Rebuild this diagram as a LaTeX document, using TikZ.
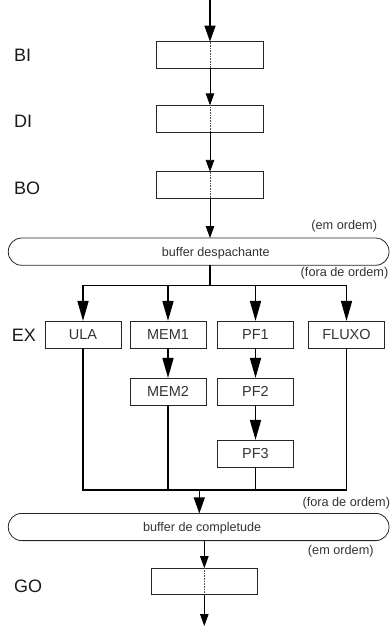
\documentclass[tikz,border=0pt]{standalone}
\usepackage{fontspec}
\setmainfont{Liberation Sans}
\usetikzlibrary{arrows.meta}
\begin{document}
\begin{tikzpicture}[x=1pt,y=-1pt,
  stage/.style={draw=black!85, line width=0.8pt, minimum width=106.5pt, minimum height=26.7pt, inner sep=0pt, outer sep=0pt},
  unit/.style={draw=black!85, line width=0.8pt, minimum width=76pt, minimum height=27.5pt, inner sep=0pt, outer sep=0pt, font=\fontsize{14.5}{16}\selectfont, text=black!80},
  buf/.style={draw=black!85, line width=0.8pt, rounded corners=13.3pt, minimum width=380.7pt, minimum height=27.2pt, inner sep=0pt, outer sep=0pt},
  buftext/.style={font=\fontsize{12.6}{14}\selectfont, text=black!80, inner sep=0pt},
  note/.style={font=\fontsize{12.7}{14}\selectfont, text=black!80, inner sep=0pt},
  stagelabel/.style={font=\fontsize{18}{20}\selectfont, anchor=west, inner sep=0pt, text=black!90},
  thickflow/.style={line width=1.4pt, -{Triangle[length=16pt,width=11pt]}},
  unitflow/.style={line width=1.4pt, -{Triangle[length=20pt,width=11pt]}},
  thinflow/.style={line width=0.8pt, -{Triangle[length=12pt,width=8.5pt]}},
  bus/.style={line width=1.4pt},
  through/.style={densely dotted, line width=0.6pt, black!70},
]
\useasboundingbox (0,0) rectangle (390,627);

% front-end stages
\node[stage] (bi) at (210,55) {};
\node[stage] (di) at (210,118.7) {};
\node[stage] (bo) at (210,185.2) {};
\coordinate (in) at (210,0);

\node[stagelabel] (lbi) at (14,55) {BI};
\node[stagelabel] (ldi) at (14,121.7) {DI};
\node[stagelabel] (lbo) at (14,188) {BO};

\draw[thickflow] (in) -- (bi.north);
\draw[thinflow] (bi.south) -- (di.north);
\draw[thinflow] (di.south) -- (bo.north);
\foreach \s in {bi,di,bo} \draw[through] (\s.north) -- (\s.south);

% dispatch buffer
\node[buf] (disp) at (198.65,251.65) {};
\node[buftext] (disptxt) at (215.8,253) {buffer despachante};
\node[note] (inord1) at (344.2,226) {(em ordem)};
\node[note] (outord1) at (344.5,273.3) {(fora de ordem)};
\draw[thinflow] (bo.south) -- (bo.south |- disp.north);

% execution units
\node[unit] (ula) at (83,334.7) {ULA};
\node[unit] (mem1) at (168,334.7) {MEM1};
\node[unit] (pf1) at (255.5,334.7) {PF1};
\node[unit] (fluxo) at (346.5,334.7) {FLUXO};
\node[unit] (mem2) at (168,391.7) {MEM2};
\node[unit] (pf2) at (255.5,391.7) {PF2};
\node[unit] (pf3) at (255.5,453.7) {PF3};
\node[stagelabel] (lex) at (11.7,335) {EX};

\coordinate (split) at (210,285.7);
\draw[bus] (split |- disp.south) -- (split);
\draw[unitflow] (split) -| (ula.north);
\draw[unitflow] (split) -| (fluxo.north);
\draw[unitflow] (mem1.north |- split) -- (mem1.north);
\draw[unitflow] (pf1.north |- split) -- (pf1.north);
\draw[unitflow] (mem1.south) -- (mem2.north);
\draw[unitflow] (pf1.south) -- (pf2.north);
\draw[unitflow] (pf2.south) -- (pf3.north);

% completion buffer
\node[buf] (comp) at (198.65,527) {};
\node[buftext] (comptxt) at (202.2,528.3) {buffer de completude};
\node[note] (outord2) at (346.3,503.3) {(fora de ordem)};
\node[note] (inord2) at (340.8,551.5) {(em ordem)};

\coordinate (join) at (199.3,490);
\draw[bus] (ula.south) |- (fluxo.south |- join) -- (fluxo.south);
\draw[bus] (mem2.south) -- (mem2.south |- join);
\draw[bus] (pf3.south) -- (pf3.south |- join);
\draw[thickflow] (join) -- (join |- comp.north);

% graduation stage
\node[stage] (go) at (204.3,581.5) {};
\node[stagelabel] (lgo) at (14,586.7) {GO};
\coordinate (out) at (204.3,626);
\draw[thinflow] (go.north |- comp.south) -- (go.north);
\draw[thinflow] (go.south) -- (out);
\draw[through] (go.north) -- (go.south);
\end{tikzpicture}
\end{document}
